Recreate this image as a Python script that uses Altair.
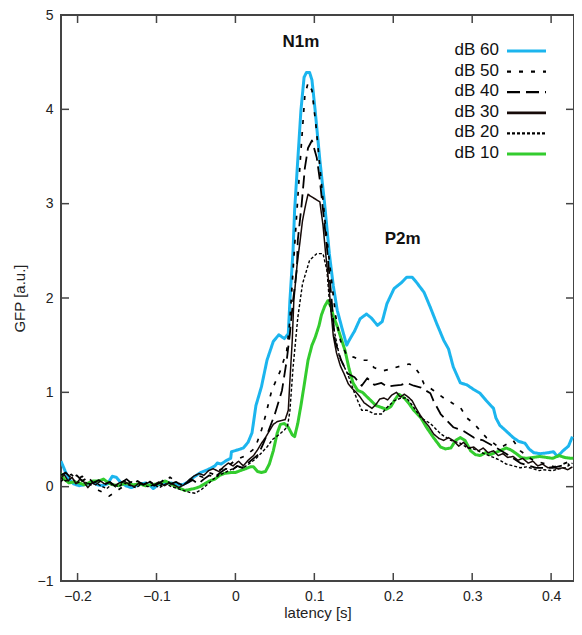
import altair as alt
import pandas as pd

# ---- data (latency in s, GFP in a.u.) ----
x60 = [-0.221,-0.216,-0.211,-0.205,-0.198,-0.192,-0.186,-0.181,-0.175,-0.168,-0.162,-0.156,-0.151,-0.146,-0.139,-0.132,-0.123,-0.114,-0.108,-0.104,-0.098,-0.089,-0.082,-0.073,-0.067,-0.060,-0.053,-0.044,-0.035,-0.026,-0.023,-0.018,-0.011,-0.006,-0.005,0.003,0.010,0.016,0.021,0.026,0.033,0.040,0.048,0.055,0.062,0.067,0.069,0.073,0.075,0.079,0.083,0.087,0.090,0.094,0.097,0.101,0.107,0.113,0.119,0.124,0.129,0.136,0.141,0.144,0.151,0.158,0.166,0.172,0.180,0.186,0.192,0.201,0.210,0.217,0.224,0.230,0.239,0.247,0.255,0.264,0.270,0.276,0.285,0.293,0.302,0.310,0.318,0.327,0.330,0.335,0.343,0.352,0.359,0.367,0.372,0.378,0.386,0.396,0.403,0.408,0.415,0.422,0.427]
y60 = [0.27,0.17,0.08,0.03,0.01,0.02,0.03,0.05,0.02,0.01,0.03,0.11,0.10,0.05,0.01,-0.01,0.02,0.04,0.01,-0.02,0.02,0.04,0.04,0.02,0.02,0.05,0.10,0.15,0.18,0.22,0.25,0.24,0.28,0.30,0.37,0.39,0.41,0.47,0.57,0.86,1.06,1.34,1.54,1.61,1.57,1.62,1.97,2.50,2.93,3.46,3.99,4.34,4.39,4.39,4.31,3.99,3.46,3.00,2.47,2.13,1.87,1.65,1.50,1.55,1.65,1.78,1.83,1.79,1.71,1.75,1.94,2.10,2.16,2.22,2.22,2.16,2.06,1.90,1.73,1.55,1.46,1.27,1.10,1.08,1.03,0.99,0.91,0.83,0.73,0.65,0.59,0.52,0.48,0.46,0.40,0.36,0.35,0.36,0.37,0.32,0.38,0.43,0.53]

x50 = [-0.222,-0.215,-0.208,-0.201,-0.194,-0.187,-0.180,-0.173,-0.166,-0.160,-0.153,-0.146,-0.139,-0.132,-0.125,-0.118,-0.111,-0.104,-0.097,-0.090,-0.083,-0.076,-0.069,-0.062,-0.055,-0.048,-0.041,-0.034,-0.027,-0.020,-0.013,-0.006,0.000,0.013,0.025,0.033,0.038,0.046,0.057,0.065,0.069,0.073,0.078,0.083,0.088,0.092,0.097,0.102,0.108,0.114,0.121,0.127,0.133,0.141,0.151,0.157,0.167,0.176,0.188,0.197,0.210,0.220,0.226,0.232,0.239,0.251,0.264,0.276,0.285,0.293,0.302,0.318,0.335,0.352,0.361,0.377,0.393,0.404,0.415,0.427]
y50 = [0.05,0.10,0.13,0.08,0.11,0.04,0.00,-0.04,-0.07,-0.10,-0.06,-0.02,0.02,0.05,0.01,0.04,0.07,0.03,0.00,0.04,0.10,0.06,0.02,0.05,0.08,0.12,0.10,0.15,0.13,0.18,0.20,0.24,0.28,0.33,0.41,0.60,0.75,1.02,1.23,1.44,1.76,2.29,2.93,3.56,4.15,4.28,4.20,3.83,3.30,2.77,2.24,1.81,1.55,1.39,1.37,1.34,1.34,1.26,1.23,1.25,1.28,1.30,1.28,1.21,1.09,1.02,0.94,0.88,0.84,0.73,0.67,0.52,0.41,0.49,0.38,0.28,0.24,0.21,0.24,0.28]

x40 = [-0.222,-0.215,-0.208,-0.201,-0.194,-0.187,-0.180,-0.173,-0.166,-0.159,-0.152,-0.145,-0.138,-0.131,-0.124,-0.117,-0.110,-0.103,-0.096,-0.089,-0.082,-0.075,-0.068,-0.061,-0.054,-0.047,-0.040,-0.033,-0.026,-0.019,-0.012,-0.005,0.002,0.009,0.016,0.023,0.029,0.035,0.041,0.050,0.059,0.065,0.069,0.073,0.078,0.079,0.084,0.088,0.092,0.097,0.103,0.107,0.111,0.116,0.122,0.126,0.134,0.142,0.151,0.160,0.167,0.176,0.185,0.192,0.201,0.210,0.217,0.226,0.235,0.247,0.251,0.260,0.268,0.276,0.289,0.302,0.314,0.327,0.343,0.361,0.381,0.402,0.423]
y40 = [0.12,0.15,0.09,0.12,0.06,0.10,0.04,0.07,0.02,0.05,0.00,0.04,0.08,0.03,0.06,0.02,0.05,0.01,0.04,0.08,0.03,0.05,0.01,0.04,0.07,0.03,0.08,0.12,0.10,0.15,0.19,0.17,0.22,0.20,0.25,0.30,0.34,0.45,0.57,0.77,1.02,1.34,1.62,1.97,2.32,2.61,3.00,3.38,3.59,3.67,3.49,3.25,2.93,2.53,1.97,1.55,1.34,1.20,1.16,1.07,1.15,1.08,1.10,1.06,1.07,1.08,1.10,1.07,1.05,0.99,0.91,0.77,0.70,0.63,0.59,0.52,0.49,0.43,0.35,0.25,0.20,0.20,0.24]

x30 = [-0.222,-0.217,-0.212,-0.207,-0.202,-0.197,-0.192,-0.187,-0.182,-0.177,-0.171,-0.166,-0.160,-0.153,-0.147,-0.141,-0.134,-0.128,-0.122,-0.116,-0.109,-0.103,-0.097,-0.090,-0.084,-0.078,-0.072,-0.065,-0.059,-0.053,-0.046,-0.040,-0.034,-0.028,-0.021,-0.015,-0.009,-0.003,0.004,0.010,0.016,0.023,0.028,0.033,0.038,0.043,0.048,0.053,0.058,0.063,0.067,0.069,0.072,0.074,0.078,0.082,0.085,0.089,0.092,0.095,0.101,0.107,0.111,0.114,0.118,0.121,0.124,0.128,0.133,0.138,0.143,0.148,0.153,0.158,0.163,0.168,0.173,0.178,0.183,0.188,0.193,0.198,0.204,0.209,0.214,0.219,0.224,0.229,0.234,0.239,0.245,0.251,0.258,0.264,0.270,0.276,0.283,0.289,0.295,0.302,0.308,0.314,0.320,0.327,0.333,0.339,0.345,0.352,0.358,0.364,0.371,0.377,0.383,0.389,0.396,0.402,0.408,0.415,0.421,0.427]
y30 = [0.08,0.13,0.06,0.10,0.03,0.08,0.05,-0.01,0.04,0.02,0.06,0.03,0.05,0.01,0.04,0.06,0.02,0.00,0.04,0.02,0.05,0.02,0.05,0.01,0.04,0.02,-0.01,0.02,0.07,0.11,0.14,0.12,0.17,0.19,0.16,0.21,0.25,0.22,0.27,0.22,0.28,0.33,0.39,0.46,0.52,0.59,0.66,0.69,0.70,0.71,0.81,1.12,1.55,1.97,2.34,2.61,2.82,2.99,3.10,3.08,3.05,3.02,2.77,2.50,2.18,1.87,1.60,1.42,1.28,1.19,1.09,1.04,1.00,0.95,0.89,0.86,0.83,0.87,0.93,0.94,0.92,0.97,1.00,0.95,0.98,0.95,0.91,0.83,0.76,0.70,0.64,0.56,0.51,0.49,0.52,0.49,0.43,0.47,0.41,0.42,0.38,0.41,0.36,0.38,0.33,0.35,0.31,0.32,0.28,0.30,0.25,0.27,0.22,0.24,0.20,0.21,0.19,0.20,0.18,0.21]

x20 = [-0.222,-0.215,-0.208,-0.200,-0.193,-0.186,-0.178,-0.171,-0.163,-0.156,-0.148,-0.141,-0.133,-0.126,-0.118,-0.111,-0.103,-0.096,-0.088,-0.081,-0.073,-0.066,-0.058,-0.051,-0.043,-0.036,-0.028,-0.021,-0.013,-0.006,0.002,0.010,0.017,0.025,0.032,0.040,0.047,0.055,0.062,0.066,0.069,0.073,0.079,0.085,0.094,0.103,0.111,0.116,0.119,0.126,0.132,0.142,0.151,0.160,0.167,0.176,0.185,0.192,0.201,0.210,0.217,0.226,0.235,0.247,0.260,0.273,0.285,0.294,0.302,0.315,0.327,0.335,0.343,0.352,0.361,0.369,0.377,0.385,0.390,0.402,0.410,0.418,0.427]
y20 = [0.10,0.06,0.09,0.04,0.07,0.02,0.05,0.01,-0.02,0.03,0.00,0.04,0.01,-0.01,0.03,0.00,0.02,-0.01,0.03,0.00,-0.02,-0.04,-0.06,-0.07,-0.03,0.02,0.08,0.12,0.15,0.18,0.21,0.20,0.24,0.29,0.35,0.42,0.50,0.55,0.60,0.64,0.80,1.26,1.79,2.15,2.40,2.47,2.47,2.29,1.97,1.62,1.37,1.20,0.99,0.81,0.81,0.77,0.77,0.84,0.91,0.94,0.94,0.84,0.73,0.67,0.56,0.49,0.46,0.41,0.40,0.35,0.31,0.28,0.24,0.22,0.20,0.21,0.19,0.17,0.18,0.17,0.19,0.20,0.25]

x10 = [-0.222,-0.217,-0.211,-0.205,-0.198,-0.192,-0.186,-0.180,-0.173,-0.167,-0.161,-0.155,-0.148,-0.142,-0.136,-0.129,-0.122,-0.114,-0.107,-0.098,-0.089,-0.082,-0.073,-0.064,-0.058,-0.052,-0.045,-0.039,-0.033,-0.026,-0.020,-0.014,-0.006,0.000,0.006,0.013,0.019,0.023,0.028,0.033,0.038,0.043,0.048,0.053,0.057,0.062,0.067,0.072,0.075,0.079,0.083,0.087,0.092,0.097,0.101,0.106,0.109,0.113,0.117,0.121,0.124,0.129,0.134,0.139,0.144,0.149,0.155,0.161,0.167,0.172,0.178,0.185,0.191,0.197,0.202,0.207,0.214,0.220,0.226,0.235,0.242,0.251,0.260,0.266,0.273,0.279,0.285,0.291,0.298,0.304,0.310,0.317,0.323,0.329,0.335,0.343,0.349,0.356,0.362,0.368,0.377,0.386,0.394,0.402,0.410,0.417,0.425,0.428]
y10 = [0.14,0.08,0.04,0.05,0.04,0.02,0.04,0.06,0.06,0.08,0.04,0.02,0.01,0.03,0.03,0.02,0.03,0.01,0.02,0.03,0.06,0.03,-0.01,-0.04,-0.03,-0.02,0.00,0.03,0.06,0.08,0.12,0.14,0.15,0.15,0.17,0.19,0.21,0.21,0.16,0.15,0.16,0.24,0.38,0.57,0.66,0.67,0.63,0.55,0.53,0.67,0.86,1.07,1.34,1.50,1.58,1.71,1.82,1.91,1.97,1.91,1.81,1.70,1.57,1.44,1.25,1.10,1.02,1.00,0.95,0.91,0.86,0.84,0.82,0.85,0.92,0.98,0.94,0.88,0.81,0.73,0.63,0.52,0.42,0.40,0.41,0.49,0.52,0.49,0.38,0.34,0.33,0.36,0.34,0.36,0.38,0.41,0.39,0.35,0.31,0.30,0.31,0.32,0.31,0.30,0.33,0.31,0.30,0.30]

series_names = ["dB 60", "dB 50", "dB 40", "dB 30", "dB 20", "dB 10"]
series_x = [x60, x50, x40, x30, x20, x10]
series_y = [y60, y50, y40, y30, y20, y10]

x_ticks = [-0.2, -0.1, 0.0, 0.1, 0.2, 0.3, 0.4]
y_ticks = [-1, 0, 1, 2, 3, 4, 5]

peak_labels = ["N1m", "P2m"]
peak_x = [0.083, 0.212]
peak_y = [4.71, 2.63]

# ---- styles ----
styles = {
    "dB 60": dict(color="#1CB5EE", width=3.0, dash=[1, 0]),
    "dB 50": dict(color="#000000", width=1.7, dash=[4, 8]),
    "dB 40": dict(color="#000000", width=1.8, dash=[13, 6]),
    "dB 30": dict(color="#160A08", width=1.5, dash=[1, 0]),
    "dB 20": dict(color="#000000", width=1.4, dash=[3, 2]),
    "dB 10": dict(color="#33CC2E", width=3.0, dash=[1, 0]),
}
legend_width = {"dB 60": 3.0, "dB 50": 2.2, "dB 40": 2.2, "dB 30": 2.8, "dB 20": 2.2, "dB 10": 3.0}

W, H = 513, 566
PAD_L = 53
FONT = "Liberation Sans"
xdom = [-0.221, 0.429]
ydom = [-1, 5]
xs = alt.Scale(domain=xdom, nice=False, zero=False)
ys = alt.Scale(domain=ydom, nice=False, zero=False)

x_axis = alt.Axis(values=x_ticks, labelExpr="datum.value == 0 ? '0' : format(datum.value, '.1f')",
                  ticks=False, grid=False, domain=False, labelPadding=8, labelFontSize=14,
                  labelFont=FONT, labelColor="#222", title="latency [s]", titleFont=FONT,
                  titleFontSize=15, titleFontWeight="normal", titleColor="#222", titlePadding=2)
y_axis = alt.Axis(values=y_ticks, format="d", ticks=False, grid=False, domain=False, labelPadding=8,
                  labelFontSize=14, labelFont=FONT, labelColor="#222", title="GFP [a.u.]",
                  titleFont=FONT, titleFontSize=15, titleFontWeight="normal", titleColor="#222",
                  titlePadding=10)

draw_order = ["dB 60", "dB 10", "dB 20", "dB 30", "dB 40", "dB 50"]
layers = []
for name in draw_order:
    i = series_names.index(name)
    df = pd.DataFrame({"latency": series_x[i], "gfp": series_y[i]})
    st = styles[name]
    layers.append(
        alt.Chart(df).mark_line(color=st["color"], strokeWidth=st["width"], strokeDash=st["dash"],
                                clip=True, strokeJoin="round")
        .encode(x=alt.X("latency:Q", scale=xs, axis=x_axis),
                y=alt.Y("gfp:Q", scale=ys, axis=y_axis),
                order="latency:Q")
    )

# inside ticks on all four sides
xt = pd.DataFrame({"latency": x_ticks})
yt = pd.DataFrame({"gfp": y_ticks})
tick_col = "#444"
layers.append(alt.Chart(xt).mark_rule(color=tick_col, strokeWidth=1.5).encode(
    x=alt.X("latency:Q", scale=xs, axis=x_axis), y=alt.value(H), y2=alt.value(H - 8)))
layers.append(alt.Chart(xt).mark_rule(color=tick_col, strokeWidth=1.5).encode(
    x=alt.X("latency:Q", scale=xs, axis=x_axis), y=alt.value(0), y2=alt.value(8)))
layers.append(alt.Chart(yt).mark_rule(color=tick_col, strokeWidth=1.5).encode(
    y=alt.Y("gfp:Q", scale=ys, axis=y_axis), x=alt.value(0), x2=alt.value(8)))
layers.append(alt.Chart(yt).mark_rule(color=tick_col, strokeWidth=1.5).encode(
    y=alt.Y("gfp:Q", scale=ys, axis=y_axis), x=alt.value(W), x2=alt.value(W - 8)))

# peak annotations
ann = pd.DataFrame({"label": peak_labels, "latency": peak_x, "gfp": peak_y})
layers.append(alt.Chart(ann).mark_text(font=FONT, fontSize=17, fontWeight="bold", color="#111",
                                       align="center", baseline="middle").encode(
    x=alt.X("latency:Q", scale=xs, axis=x_axis), y=alt.Y("gfp:Q", scale=ys, axis=y_axis),
    text="label:N"))

# manual legend (label left, line sample right)
for i, name in enumerate(series_names):
    yy = 35 + 20.6 * i
    st = styles[name]
    layers.append(alt.Chart(pd.DataFrame({"s": [name]})).mark_text(
        font=FONT, fontSize=17, color="#111", align="right", baseline="middle").encode(
        text="s:N", x=alt.value(438), y=alt.value(yy)))
    layers.append(alt.Chart(pd.DataFrame({"s": [name]})).mark_rule(
        color=st["color"], strokeWidth=legend_width[name], strokeDash=st["dash"]).encode(
        x=alt.value(446), x2=alt.value(485), y=alt.value(yy + 1)))

chart = alt.layer(*layers).properties(
    width=W, height=H,
    autosize=alt.AutoSizeParams(type="none"),
    padding={"left": PAD_L, "top": 7, "right": 0, "bottom": 42},
).configure(background="white").configure_view(stroke="#444", strokeWidth=2)

chart.save("out.html", embed_options={"renderer": "svg", "actions": False})
